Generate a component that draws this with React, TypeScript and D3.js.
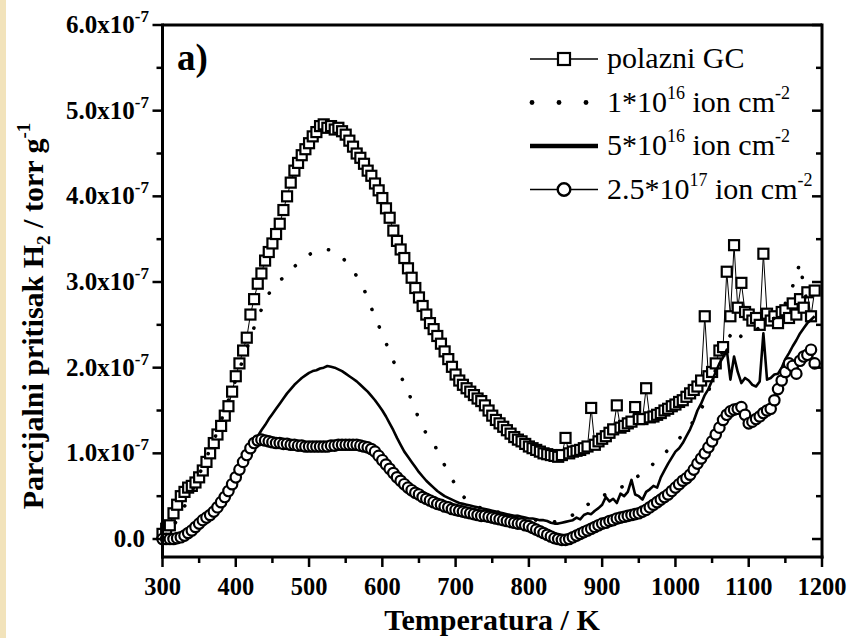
import React from 'react';
import * as d3 from 'd3';

// Temperature sampling (K)
const temperature: number[] = d3.range(300, 1191, 5);

// Values in units of 1e-7 torr/g, one row per 50 K
const polazniGC = [
  0.06,0.12,0.16,0.30,0.40,0.50,0.55,0.60,0.62,0.66,
  0.72,0.80,0.90,1.00,1.12,1.22,1.32,1.44,1.55,1.72,
  1.90,2.05,2.20,2.35,2.62,2.80,2.98,3.10,3.25,3.35,
  3.45,3.56,3.68,3.84,4.00,4.16,4.30,4.39,4.48,4.55,
  4.62,4.70,4.75,4.82,4.84,4.80,4.82,4.78,4.80,4.76,
  4.72,4.65,4.58,4.50,4.45,4.38,4.30,4.24,4.15,4.07,
  3.98,3.86,3.75,3.60,3.48,3.38,3.28,3.16,3.05,2.93,
  2.82,2.72,2.62,2.52,2.45,2.37,2.28,2.19,2.10,2.01,
  1.92,1.85,1.80,1.76,1.72,1.68,1.64,1.61,1.56,1.50,
  1.44,1.39,1.35,1.31,1.27,1.23,1.19,1.16,1.14,1.11,
  1.08,1.06,1.04,1.02,1.00,0.99,0.98,0.97,0.96,0.98,
  1.18,1.00,1.02,1.03,1.04,1.06,1.08,1.53,1.10,1.14,
  1.17,1.20,1.24,1.28,1.56,1.30,1.32,1.35,1.37,1.54,
  1.40,1.40,1.76,1.42,1.43,1.45,1.47,1.50,1.52,1.55,
  1.57,1.60,1.62,1.66,1.70,1.74,1.78,1.85,2.60,1.90,
  1.95,2.05,2.20,2.24,3.12,2.60,3.43,2.70,2.99,2.65,
  2.62,2.55,2.58,2.50,3.33,2.63,2.55,2.60,2.52,2.65,
  2.67,2.58,2.75,2.62,2.80,2.70,2.88,2.60,2.90,
];

const dose1e16 = [
  0.03,0.06,0.10,0.16,0.22,0.30,0.38,0.46,0.55,0.65,
  0.75,0.85,0.95,1.05,1.15,1.26,1.38,1.50,1.62,1.74,
  1.86,1.98,2.10,2.22,2.35,2.47,2.58,2.68,2.78,2.86,
  2.93,2.98,3.02,3.05,3.08,3.12,3.18,3.22,3.26,3.29,
  3.32,3.34,3.36,3.37,3.38,3.38,3.37,3.35,3.33,3.29,
  3.24,3.19,3.13,3.07,3.00,2.91,2.82,2.70,2.58,2.49,
  2.40,2.29,2.18,2.08,1.98,1.90,1.82,1.72,1.62,1.51,
  1.40,1.31,1.23,1.18,1.12,1.03,0.95,0.86,0.78,0.70,
  0.63,0.56,0.50,0.46,0.42,0.40,0.38,0.36,0.35,0.34,
  0.33,0.32,0.31,0.30,0.29,0.28,0.27,0.26,0.25,0.24,
  0.24,0.23,0.22,0.22,0.21,0.21,0.20,0.20,0.21,0.22,
  0.24,0.26,0.28,0.31,0.34,0.37,0.40,0.43,0.46,0.48,
  0.50,0.52,0.54,0.56,0.58,0.60,0.62,0.65,0.68,0.71,
  0.74,0.77,0.80,0.84,0.88,0.92,0.96,1.00,1.04,1.08,
  1.12,1.17,1.22,1.27,1.32,1.38,1.45,1.52,1.59,1.72,
  1.85,1.98,2.10,2.20,2.30,2.38,2.46,2.40,2.36,2.38,
  2.40,2.42,2.44,2.47,2.50,2.52,2.55,2.58,2.62,2.68,
  2.75,2.85,2.95,3.10,3.22,2.95,2.75,2.80,2.85,
];

const dose5e16 = [
  0.00,0.00,0.00,0.01,0.02,0.03,0.05,0.07,0.10,0.13,
  0.17,0.21,0.25,0.29,0.33,0.38,0.44,0.50,0.57,0.64,
  0.72,0.80,0.88,0.96,1.05,1.13,1.20,1.27,1.33,1.40,
  1.46,1.52,1.58,1.64,1.70,1.75,1.80,1.84,1.88,1.91,
  1.94,1.96,1.97,1.99,2.00,2.02,2.01,2.00,1.98,1.96,
  1.93,1.90,1.87,1.84,1.80,1.76,1.72,1.67,1.62,1.56,
  1.50,1.43,1.35,1.27,1.18,1.10,1.02,0.96,0.90,0.84,
  0.78,0.73,0.68,0.64,0.60,0.56,0.53,0.50,0.48,0.46,
  0.44,0.42,0.41,0.40,0.39,0.38,0.37,0.36,0.35,0.34,
  0.33,0.32,0.31,0.30,0.29,0.28,0.27,0.27,0.26,0.25,
  0.24,0.24,0.23,0.22,0.22,0.21,0.19,0.18,0.18,0.19,
  0.20,0.21,0.22,0.25,0.23,0.28,0.30,0.29,0.33,0.36,
  0.40,0.49,0.44,0.47,0.42,0.53,0.50,0.55,0.69,0.52,
  0.50,0.46,0.55,0.58,0.62,0.60,0.72,0.80,0.88,0.95,
  1.02,1.06,1.12,1.20,1.28,1.38,1.50,1.58,1.68,1.75,
  1.85,1.95,2.05,2.12,2.21,1.86,2.13,1.95,1.82,1.88,
  1.85,1.80,1.78,1.84,2.40,1.86,1.88,1.92,1.93,2.00,
  2.10,2.17,2.25,2.32,2.40,2.46,2.52,2.56,2.60,
];

const dose25e17 = [
  0.00,0.00,0.00,0.00,0.01,0.02,0.04,0.07,0.10,0.14,
  0.18,0.22,0.25,0.28,0.32,0.37,0.43,0.49,0.56,0.64,
  0.72,0.81,0.90,0.98,1.06,1.12,1.15,1.16,1.15,1.14,
  1.13,1.12,1.12,1.11,1.11,1.10,1.10,1.09,1.09,1.08,
  1.08,1.08,1.08,1.08,1.08,1.08,1.09,1.09,1.10,1.10,
  1.10,1.10,1.10,1.10,1.09,1.08,1.07,1.05,1.02,0.97,
  0.92,0.87,0.82,0.77,0.72,0.68,0.64,0.60,0.57,0.54,
  0.52,0.49,0.47,0.45,0.43,0.41,0.40,0.38,0.37,0.35,
  0.34,0.33,0.32,0.31,0.30,0.29,0.28,0.27,0.27,0.26,
  0.25,0.24,0.23,0.22,0.21,0.20,0.19,0.18,0.18,0.16,
  0.15,0.13,0.11,0.09,0.07,0.05,0.03,0.01,0.00,-0.01,
  -0.01,0.00,0.02,0.04,0.06,0.08,0.10,0.12,0.14,0.16,
  0.18,0.19,0.21,0.22,0.24,0.25,0.26,0.27,0.28,0.29,
  0.30,0.32,0.34,0.37,0.40,0.43,0.46,0.49,0.52,0.56,
  0.60,0.64,0.68,0.71,0.75,0.81,0.88,0.94,1.00,1.07,
  1.14,1.22,1.30,1.39,1.45,1.49,1.51,1.52,1.54,1.45,
  1.35,1.37,1.40,1.43,1.47,1.50,1.52,1.62,1.75,1.85,
  1.95,2.05,2.02,1.93,2.08,2.13,2.15,2.21,2.05,
];

const xTickValues = [300, 400, 500, 600, 700, 800, 900, 1000, 1100, 1200];
const xMinorValues = [350, 450, 550, 650, 750, 850, 950, 1050, 1150];
const yTickValues = [0, 1, 2, 3, 4, 5, 6];
const yTickLabels = ['0.0', '1.0x10', '2.0x10', '3.0x10', '4.0x10', '5.0x10', '6.0x10'];
const yTickExponent = '-7';
const yMinorValues = [0.5, 1.5, 2.5, 3.5, 4.5, 5.5];

const legendLabels = [
  { base: 'polazni GC', sup: '', rest: '', sup2: '' },
  { base: '1*10', sup: '16', rest: ' ion cm', sup2: '-2' },
  { base: '5*10', sup: '16', rest: ' ion cm', sup2: '-2' },
  { base: '2.5*10', sup: '17', rest: ' ion cm', sup2: '-2' },
];

const FONT = "'Liberation Serif', 'Times New Roman', serif";

export default function App() {
  const W = 851;
  const H = 638;
  const left = 162.5, right = 822, top = 25, bottom = 557;
  const x = d3.scaleLinear().domain([300, 1200]).range([left, right]);
  const y = d3.scaleLinear().domain([-0.21, 6.0]).range([bottom, top]);

  const mk = (vals: number[]) => temperature.map((t, i) => [t, vals[i]] as [number, number]).filter(d => d[1] !== undefined);
  const line = d3.line<[number, number]>().x(d => x(d[0])).y(d => y(d[1]));

  const sq = mk(polazniGC);
  const d16 = mk(dose1e16);
  const d5 = mk(dose5e16);
  const c17 = mk(dose25e17);

  const legendY = [59, 102.5, 146, 189.5];

  return (
    <svg width={W} height={H} style={{ position: 'absolute', left: 0, top: 0, background: '#fff' }} fontFamily={FONT}>
      <rect x={0} y={0} width={W} height={H} fill="#fff" />
      <rect x={0} y={0} width={6} height={H} fill="#f2e3bb" />

      {/* series: polazni GC */}
      <path d={line(sq) || ''} fill="none" stroke="#000" strokeWidth={1} />
      {sq.map((d, i) => (
        <rect key={'s' + i} x={x(d[0]) - 5} y={y(d[1]) - 5} width={10} height={10} fill="#fff" stroke="#000" strokeWidth={2.2} />
      ))}

      {/* 1e16 dotted */}
      <path d={line(d16) || ''} fill="none" stroke="#000" strokeWidth={3.6} strokeDasharray="0.1 19" strokeLinecap="round" />

      {/* 5e16 solid */}
      <path d={line(d5) || ''} fill="none" stroke="#000" strokeWidth={2.6} strokeLinejoin="round" />

      {/* 2.5e17 circles */}
      <path d={line(c17) || ''} fill="none" stroke="#000" strokeWidth={1} />
      {c17.map((d, i) => (
        <circle key={'c' + i} cx={x(d[0])} cy={y(d[1])} r={5.2} fill="#fff" stroke="#000" strokeWidth={2.2} />
      ))}

      {/* frame */}
      <line x1={left} x2={right} y1={top} y2={top} stroke="#000" strokeWidth={3} />
      <line x1={right} x2={right} y1={top - 1.5} y2={bottom + 1.5} stroke="#000" strokeWidth={3} />
      <line x1={left} x2={left} y1={top - 1.5} y2={bottom + 1.5} stroke="#000" strokeWidth={3} />
      <line x1={left - 1.5} x2={right + 1.5} y1={bottom} y2={bottom} stroke="#000" strokeWidth={3} />

      {/* x ticks */}
      {xTickValues.map(v => (
        <g key={'xt' + v}>
          <line x1={x(v)} x2={x(v)} y1={bottom} y2={bottom + 10} stroke="#000" strokeWidth={2.5} />
          <text x={x(v)} y={595} textAnchor="middle" fontSize={24.5} fontWeight="bold">{v}</text>
        </g>
      ))}
      {xMinorValues.map(v => (
        <line key={'xm' + v} x1={x(v)} x2={x(v)} y1={bottom} y2={bottom + 6} stroke="#000" strokeWidth={2.5} />
      ))}

      {/* y ticks */}
      {yTickValues.map((v, i) => (
        <g key={'yt' + v}>
          <line x1={left} x2={left - 10} y1={y(v)} y2={y(v)} stroke="#000" strokeWidth={2.5} />
          <line x1={right} x2={right - 10} y1={y(v)} y2={y(v)} stroke="#000" strokeWidth={2.5} />
          {v === 0 ? (
            <text x={145} y={y(v) + 8} textAnchor="end" fontSize={25} fontWeight="bold">{yTickLabels[i]}</text>
          ) : (
            <text x={149} y={y(v) + 8} textAnchor="end" fontSize={25} fontWeight="bold">
              {yTickLabels[i]}
              <tspan fontSize={17} dy={-11}>{yTickExponent}</tspan>
            </text>
          )}
        </g>
      ))}
      {yMinorValues.map(v => (
        <g key={'ym' + v}>
          <line x1={left} x2={left - 6} y1={y(v)} y2={y(v)} stroke="#000" strokeWidth={2.5} />
          <line x1={right} x2={right - 6} y1={y(v)} y2={y(v)} stroke="#000" strokeWidth={2.5} />
        </g>
      ))}

      {/* axis titles */}
      <text x={492} y={630} textAnchor="middle" fontSize={30} fontWeight="bold">Temperatura / K</text>
      <text transform={`translate(43, 316) rotate(-90)`} textAnchor="middle" fontSize={30} fontWeight="bold">
        Parcijalni pritisak H<tspan fontSize={19} dy={7}>2</tspan><tspan dy={-7}> / torr g</tspan><tspan fontSize={19} dy={-13}>-1</tspan>
      </text>

      {/* panel label */}
      <text x={177} y={70} fontSize={37} fontWeight="bold">a)</text>

      {/* legend */}
      <g>
        <line x1={530} x2={598} y1={legendY[0]} y2={legendY[0]} stroke="#000" strokeWidth={1.5} />
        <rect x={558} y={legendY[0] - 6} width={12} height={12} fill="#fff" stroke="#000" strokeWidth={2.2} />

        {[532, 559, 586].map(cx => (
          <circle key={'ld' + cx} cx={cx} cy={legendY[1]} r={2.4} fill="#000" />
        ))}

        <line x1={530} x2={598} y1={legendY[2]} y2={legendY[2]} stroke="#000" strokeWidth={4.5} />

        <line x1={530} x2={598} y1={legendY[3]} y2={legendY[3]} stroke="#000" strokeWidth={1.5} />
        <circle cx={564} cy={legendY[3]} r={6.3} fill="#fff" stroke="#000" strokeWidth={2.4} />

        {legendLabels.map((l, i) => (
          <text key={'lt' + i} x={607} y={legendY[i] + 9} fontSize={30}>
            {l.base}
            {l.sup ? <tspan fontSize={18} dy={-13}>{l.sup}</tspan> : null}
            {l.rest ? <tspan dy={13}>{l.rest}</tspan> : null}
            {l.sup2 ? <tspan fontSize={18} dy={-13}>{l.sup2}</tspan> : null}
          </text>
        ))}
      </g>
    </svg>
  );
}
